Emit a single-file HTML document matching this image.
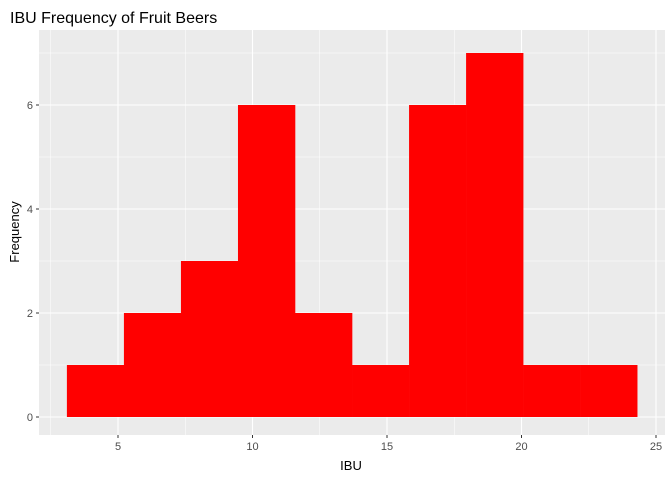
<!DOCTYPE html>
<html><head><meta charset="utf-8"><style>
body{margin:0;background:#fff;}
svg{display:block;font-family:"Liberation Sans",sans-serif;}
</style></head><body>
<svg id="c" width="672" height="480">
<text x="10" y="23" font-size="16" fill="#000">IBU Frequency of Fruit Beers</text>
<rect x="39" y="30" width="626" height="405" fill="#EBEBEB"/>
<g id="grid"></g><g id="bars"></g><g id="axes"></g>
<text x="351" y="470" font-size="13" text-anchor="middle" fill="#000">IBU</text>
<text transform="translate(19,232) rotate(-90)" font-size="13" text-anchor="middle" fill="#000">Frequency</text>
</svg>
<script>
const binStart = 3.1;
const binWidth = 2.12;
const counts = [1,2,3,6,2,1,6,7,1,1];
const xTicks = [5,10,15,20,25];
const yTicks = [0,2,4,6];
const NS="http://www.w3.org/2000/svg";
function X(v){return 118+(v-5)*26.9;}
function Y(v){return 417-v*52;}
function mk(t,a,p){const e=document.createElementNS(NS,t);for(const k in a)e.setAttribute(k,a[k]);p.appendChild(e);return e;}
const g=document.getElementById('grid'),b=document.getElementById('bars'),ax=document.getElementById('axes');
for(let i=0;i<xTicks.length;i++){
  const v=xTicks[i];
  if(i>0){const m=mk('line',{x1:X(v-2.5),x2:X(v-2.5),y1:30,y2:435,stroke:'#fff','stroke-width':0.5},g);
  }
  const l=mk('line',{x1:X(v),x2:X(v),y1:30,y2:435,stroke:'#fff','stroke-width':1.1},g);
  
  const t=mk('line',{x1:X(v),x2:X(v),y1:435,y2:438,stroke:'#333'},ax);
  
  const tx=mk('text',{x:X(v),y:450,'font-size':11,'text-anchor':'middle',fill:'#4D4D4D'},ax);tx.textContent=v;
  
}
{const m=mk('line',{x1:X(2.5),x2:X(2.5),y1:30,y2:435,stroke:'#fff','stroke-width':0.5},g);
}
for(let i=0;i<yTicks.length;i++){
  const v=yTicks[i];
  const m=mk('line',{x1:39,x2:665,y1:Y(v+1),y2:Y(v+1),stroke:'#fff','stroke-width':0.5},g);
  
  const l=mk('line',{x1:39,x2:665,y1:Y(v),y2:Y(v),stroke:'#fff','stroke-width':1.1},g);
  
  const t=mk('line',{x1:36,x2:39,y1:Y(v),y2:Y(v),stroke:'#333'},ax);
  
  const tx=mk('text',{x:33,y:Y(v)+4,'font-size':11,'text-anchor':'end',fill:'#4D4D4D'},ax);tx.textContent=v;
  
}
for(let i=0;i<counts.length;i++){
  const x0=X(binStart+i*binWidth),x1=X(binStart+(i+1)*binWidth);
  const r=mk('rect',{x:x0,y:Y(counts[i]),width:x1-x0+0.3,height:Y(0)-Y(counts[i]),fill:'#FF0000'},b);
  
}
</script>
</body></html>
